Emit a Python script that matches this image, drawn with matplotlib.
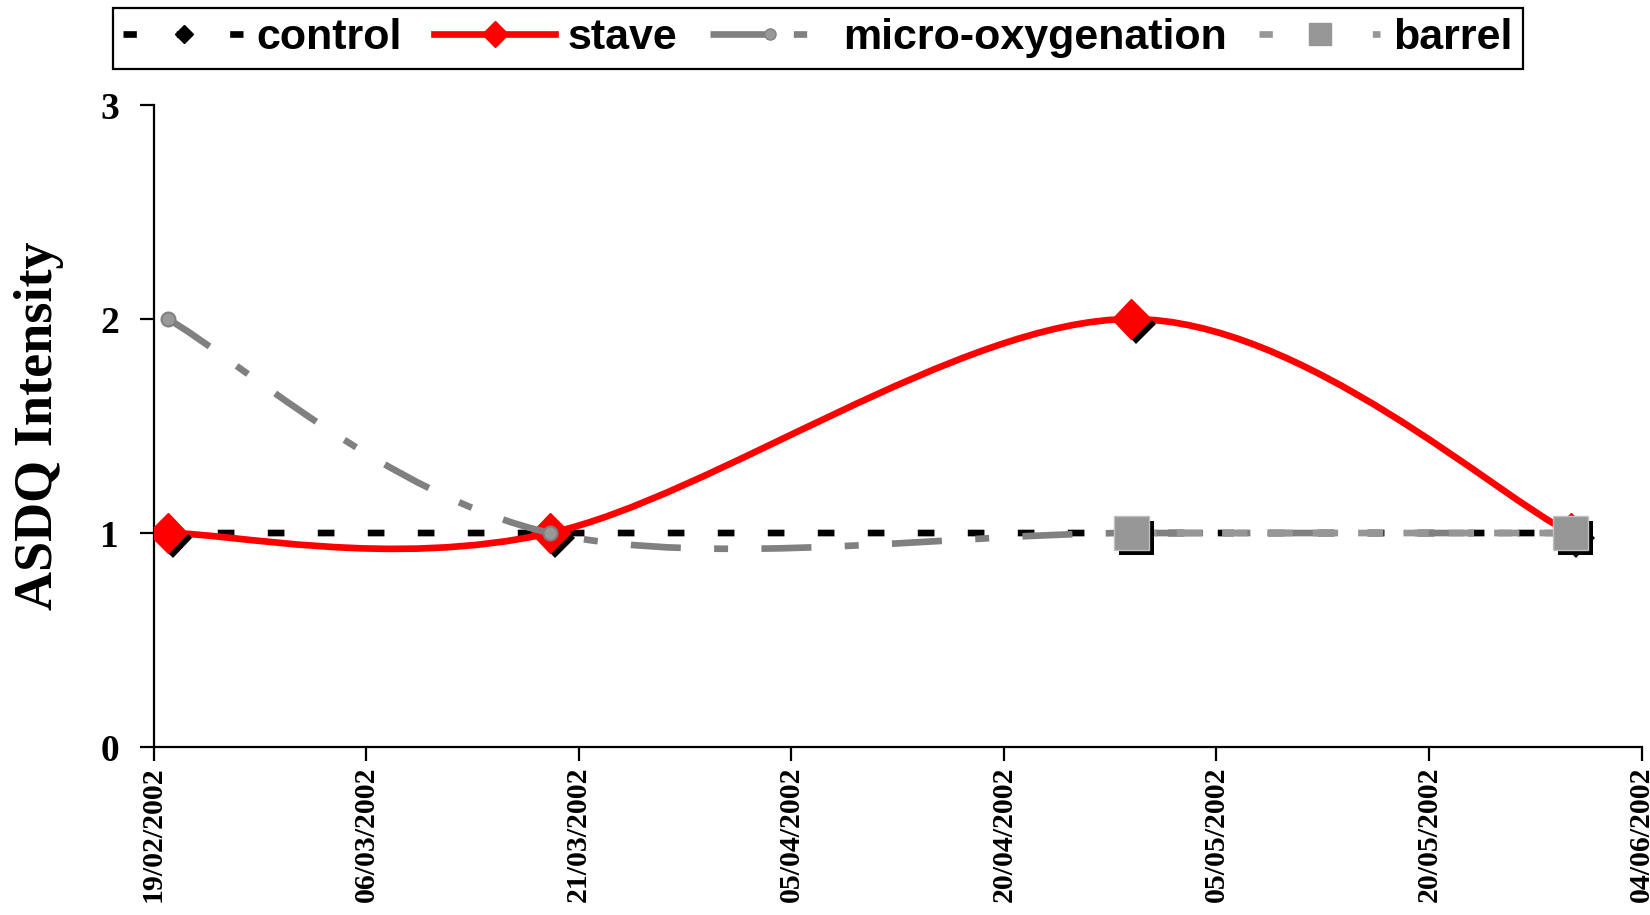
import numpy as np
import pandas as pd
import matplotlib
matplotlib.use("Agg")
import matplotlib.pyplot as plt
import matplotlib.dates as mdates
import matplotlib.patheffects as pe
from matplotlib.path import Path
from matplotlib.patches import PathPatch
from matplotlib.lines import Line2D

# sampling dates and ASDQ intensities
dates = pd.to_datetime(["2002-02-20", "2002-03-19", "2002-04-29", "2002-05-30"])
control = [1, 1, 1, 1]
stave = [1, 1, 2, 1]
micro_ox = [2, 1, 1, 1]
barrel_dates = pd.to_datetime(["2002-04-29", "2002-05-30"])
barrel = [1, 1]

tick_dates = pd.date_range("2002-02-19", "2002-06-04", freq="15D")
y_ticks = [0, 1, 2, 3]

LW = 4.8
SERIF = "Liberation Serif"
SANS = "Liberation Sans"


def smooth_path(x, y):
    # Excel-style smoothed line: cubic bezier through the points
    pts = np.column_stack([mdates.date2num(x), np.asarray(y, float)])
    n = len(pts)
    verts = [pts[0]]
    codes = [Path.MOVETO]
    for i in range(n - 1):
        p0 = pts[max(i - 1, 0)]
        p1 = pts[i]
        p2 = pts[i + 1]
        p3 = pts[min(i + 2, n - 1)]
        verts += [p1 + (p2 - p0) / 6, p2 - (p3 - p1) / 6, p2]
        codes += [Path.CURVE4] * 3
    return Path(verts, codes)


shadow = [pe.SimplePatchShadow(offset=(3.5, -3.5), shadow_rgbFace="black", alpha=1), pe.Normal()]

fig = plt.figure(figsize=(16.5, 9.15), dpi=100)
ax = fig.add_axes([0.0931, 0.1836, 0.9018, 0.7016])

series = [
    (dates, control, "black", (0, (2.5, 5.0)), 2),
    (dates, stave, "#ff0000", "-", 3),
    (dates, micro_ox, "#808080", (0, (7.5, 5.0, 2.1, 5.0)), 4),
    (barrel_dates, barrel, "#969696", (0, (3.8, 3.0)), 5),
]
for x, y, col, ls, z in series:
    ax.add_patch(PathPatch(smooth_path(x, y), fill=False, edgecolor=col, lw=LW,
                           linestyle=ls, capstyle="butt", zorder=z))

ax.plot(dates, control, linestyle="none", marker="D", ms=10, mfc="black", mec="black",
        zorder=2.5, path_effects=shadow)
ax.plot(dates, stave, linestyle="none", marker="D", ms=20, mfc="#ff0000", mec="#ff0000",
        zorder=3.5, path_effects=shadow)
ax.plot(dates, micro_ox, linestyle="none", marker="o", ms=10, mfc="#999999", mec="#808080",
        mew=1.5, zorder=4.5)
ax.plot(barrel_dates, barrel, linestyle="none", marker="s", ms=25, mfc="#969696", mec="#c0c0c0",
        mew=1, zorder=5.5, path_effects=shadow)

ax.set_xlim(tick_dates[0], tick_dates[-1])
ax.set_ylim(0, 3)
ax.set_xticks(tick_dates)
ax.xaxis.set_major_formatter(mdates.DateFormatter("%d/%m/%Y"))
ax.set_yticks(y_ticks)

for s in ["top", "right"]:
    ax.spines[s].set_visible(False)
for s in ["left", "bottom"]:
    ax.spines[s].set_linewidth(1.6)
ax.tick_params(axis="both", direction="out", length=10, width=1.6)
ax.tick_params(axis="x", pad=4)
ax.tick_params(axis="y", pad=15)

for lab in ax.get_xticklabels():
    lab.set_rotation(90)
    lab.set_fontfamily(SERIF)
    lab.set_fontweight("bold")
    lab.set_fontsize(21.5)
for lab in ax.get_yticklabels():
    lab.set_fontfamily(SERIF)
    lab.set_fontweight("bold")
    lab.set_fontsize(27)

ax.set_ylabel("ASDQ Intensity", fontfamily=SERIF, fontweight="bold", fontsize=39)
ax.yaxis.set_label_coords(-0.060, 0.5)

handles = [
    Line2D([], [], color="black", lw=LW, linestyle=(0, (2.0, 6.0)), marker="D", ms=9,
           mfc="black", mec="black"),
    Line2D([], [], color="#ff0000", lw=LW, linestyle="-", marker="D", ms=13,
           mfc="#ff0000", mec="#ff0000"),
    Line2D([], [], color="#808080", lw=LW, linestyle=(0, (9.0, 3.5, 2.0, 5.0)), marker="o", ms=8,
           mfc="#999999", mec="#808080"),
    Line2D([], [], color="#969696", lw=LW, linestyle=(0, (2.0, 6.5)), marker="s", ms=16,
           mfc="#969696", mec="#969696"),
]
labels = ["control", "stave", "micro-oxygenation", "barrel"]
leg = fig.legend(handles, labels, loc="upper left", bbox_to_anchor=(113 / 1650, 1 - 8 / 915),
                 ncol=4, frameon=True, fancybox=False, edgecolor="black", framealpha=1,
                 borderpad=0.24, handlelength=2.8, handletextpad=0.3, columnspacing=0.75,
                 borderaxespad=0, prop={"family": SANS, "weight": "bold", "size": 31})
leg.get_frame().set_linewidth(1.6)

fig.savefig("out.png", dpi=100)
